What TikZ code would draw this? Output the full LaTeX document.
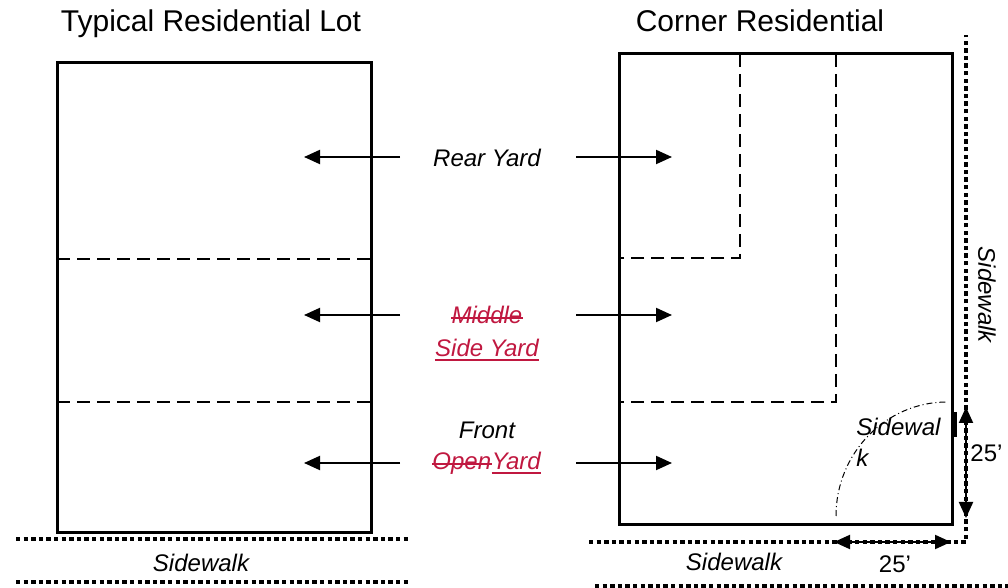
\documentclass[tikz,border=0pt]{standalone}
\usepackage{fontspec}
\setmainfont{Liberation Sans}
\usetikzlibrary{arrows.meta}
\definecolor{editred}{RGB}{192,24,64}
\begin{document}
\begin{tikzpicture}[x=0.5pt,y=-0.5pt,>={Triangle[length=8pt,width=7pt]},
    lot/.style={line width=1.5pt},
    yard/.style={line width=1pt,dash pattern=on 6.5pt off 3.5pt},
    walk/.style={line width=2pt,dash pattern=on 2.2pt off 1.6pt},
    lbl/.style={font=\itshape\fontsize{12}{16}\selectfont,inner sep=0pt},
    edit/.style={lbl,text=editred},
    dimlbl/.style={font=\fontsize{12}{16}\selectfont,inner sep=0pt},
    ttl/.style={font=\fontsize{15}{18}\selectfont,inner sep=0pt}]
    \useasboundingbox (0,0) rectangle (1008,588);
    \def\ax{400} \def\bx{576} % arrow tails
    \def\atip{304} \def\btip{672} % arrow tips
    % titles
    \node[ttl,anchor=base] (typttl) at (211,32) {Typical Residential Lot};
    \node[ttl,anchor=base] (cornttl) at (760,32) {Corner Residential};
    % typical lot
    \draw[lot] (57,63) rectangle (371,533);
    \draw[yard] (57,259)--(371,259) (57,402)--(371,402);
    % corner lot
    \draw[lot] (619,54) rectangle (952,525);
    \draw[yard] (740,54)--(740,258)--(619,258);
    \draw[yard] (836,54)--(836,402)--(619,402);
    \draw[lot] (955,412)--(955,437);
    \draw[line width=0.5pt,dash pattern=on 3pt off 1.5pt on 0.5pt off 1.5pt] (836,516) .. controls (836,453) and (886,402) .. (947,402);
    % sidewalks
    \draw[walk] (16,539)--(410,539) (16,582)--(410,582);
    \draw[walk] (589,542)-|(966,35);
    \draw[walk] (595,586)--(1008,586);
    \node[lbl,anchor=base] (walkA) at (201,572) {Sidewalk};
    \node[lbl,anchor=base] (walkB) at (734,571) {Sidewalk};
    \node[lbl,rotate=-90] (walkC) at (987,295) {Sidewalk};
    \node[lbl,anchor=base west,align=left] (walkD) at (856,467) {Sidewal\\k};
    % yard labels
    \node[lbl,anchor=base] (rear) at (487,167) {Rear Yard};
    \node[edit,anchor=base] (middle) at (487,324) {Middle};
    \node[edit,anchor=base] (side) at (487,357) {Side Yard};
    \node[lbl,anchor=base] (front) at (487,439) {Front};
    \node[edit,anchor=base west] (open) at (432,470) {Open};
    \node[edit,anchor=base west] (yardtxt) at (open.base east) {Yard};
    % struck and underlined words
    \draw[editred,line width=0.9pt] ([yshift=3pt]middle.base west)--([yshift=3pt]middle.base east);
    \draw[editred,line width=0.9pt] ([yshift=3pt]open.base west)--([yshift=3pt]open.base east);
    \draw[editred,line width=0.9pt] ([yshift=-1.6pt]side.base west)--([yshift=-1.6pt]side.base east);
    \draw[editred,line width=0.9pt] ([yshift=-1.6pt]yardtxt.base west)--([yshift=-1.6pt]yardtxt.base east);
    \foreach \y/\n in {157/rear,315/side,463/front}{
        \coordinate (\n-a) at (\ax,\y); \coordinate (\n-at) at (\atip,\y);
        \coordinate (\n-b) at (\bx,\y); \coordinate (\n-bt) at (\btip,\y);
        \draw[->,line width=1pt] (\n-a)--(\n-at);
        \draw[->,line width=1pt] (\n-b)--(\n-bt);
    }
    % 25' dimensions
    \coordinate (dimL) at (834,542); \coordinate (dimR) at (951,542);
    \coordinate (dimT) at (966,407); \coordinate (dimB) at (966,518);
    \draw[<->,line width=1pt] (dimL)--(dimR);
    \draw[<->,line width=1pt] (dimT)--(dimB);
    \node[dimlbl,anchor=base] (dimh) at (895,573) {25’};
    \node[dimlbl,anchor=base west] (dimv) at (970,462) {25’};
\end{tikzpicture}
\end{document}
